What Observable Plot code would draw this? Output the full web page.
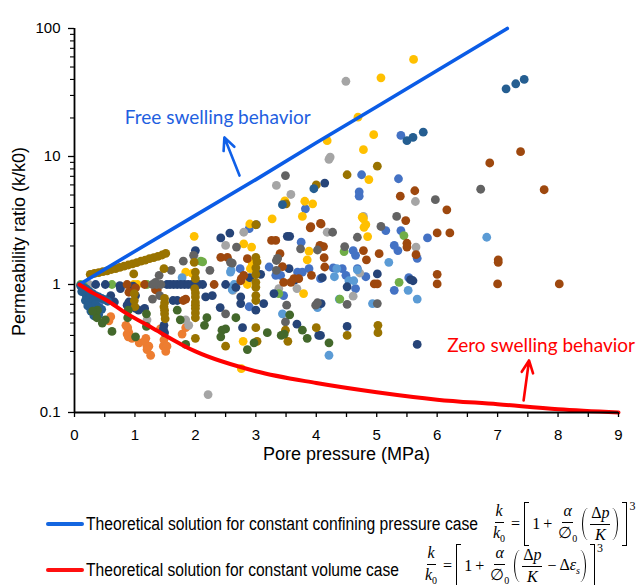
<!DOCTYPE html>
<html><head><meta charset="utf-8">
<script src="https://cdn.jsdelivr.net/npm/d3@7"></script>
<script src="https://cdn.jsdelivr.net/npm/@observablehq/plot@0.6"></script>
<style>
body{margin:0;background:#fff;}
#wrap{position:relative;width:641px;height:585px;overflow:hidden;background:#fff;}
#wrap svg{display:block;}
.lg-line{position:absolute;height:4px;width:38px;left:46px;border-radius:2px;}
.lg-text{position:absolute;left:86px;font-family:"Liberation Sans Narrow","Arial Narrow","Liberation Sans",Arial,sans-serif;font-size:18px;transform-origin:left center;white-space:nowrap;line-height:1;color:#000;}
.math{position:absolute;display:flex;align-items:center;font-family:"Liberation Serif","DejaVu Serif",serif;font-size:16px;line-height:1;white-space:nowrap;color:#000;transform:translateY(-50%);}
.frac{display:inline-flex;flex-direction:column;align-items:center;margin:0 2px;}
.frac>span{line-height:1.05;}
.frac>span:first-child{border-bottom:1px solid #000;padding:0 1px 2px;}
.frac>span:last-child{padding:2px 1px 0;}
.op{margin:0 3px;}
.bl,.br{display:inline-block;width:4px;height:42px;border:1.3px solid #000;}
.bl{border-right:none;margin:0 3px 0 1px;}
.br{border-left:none;margin:0 1px 0 3px;}
.pl,.pr{display:inline-block;width:5px;height:32px;}
.pl{border-left:1.4px solid #000;border-radius:6px 0 0 6px / 16px 0 0 16px;margin:0 0 0 2px;}
.pr{border-right:1.4px solid #000;border-radius:0 6px 6px 0 / 0 16px 16px 0;margin:0 1px 0 0;}
.v{font-style:italic;}
.sb{font-size:10px;vertical-align:-4px;}
.sp{font-size:12px;align-self:flex-start;margin-top:-2px;margin-left:1px;}
</style>
</head><body>
<div id="wrap"></div>
<script>
// ---------- axis ticks ----------
const xTicks = [0,1,2,3,4,5,6,7,8,9];
const xMinorTicks = [0.5,1.5,2.5,3.5,4.5,5.5,6.5,7.5,8.5];
const yTicks = [0.1,1,10,100];
const yTickLabels = ["0.1","1","10","100"];
const yMinorTicks = [0.2,0.3,0.4,0.5,0.6,0.7,0.8,0.9,2,3,4,5,6,7,8,9,20,30,40,50,60,70,80,90];

// ---------- theoretical curves ----------
const freeSwelling = [[0.08,1],[1,1.82],[2,3.47],[3,6.6],[4,12.8],[5,24.5],[6,47],[7.16,100]];
const zeroSwelling = [[0.08,1],[0.3,0.86],[0.54,0.75],[0.8,0.62],[1.26,0.465],[2,0.3],[3,0.21],[4,0.17],[5,0.144],[6,0.126],[7,0.116],[8,0.106],[9,0.1]];

// ---------- measured data, one array per series ----------
const seriesBlue = [[0.2,0.9],[0.3,0.78],[0.35,0.72],[0.25,0.84],[0.4,0.7],[2.74,1.33],[2.89,2.73],[3.22,1.37],[3.33,1.18],[3.41,1.18],[3.46,0.82],[3.69,1.25],[3.77,1.25],[3.75,2.14],[3.82,3.9],[3.88,1.33],[2.89,0.67],[4.28,1.35],[4.43,1.33],[4.49,1.18],[4.61,1.84],[4.65,1.69],[4.68,1.33],[4.65,0.93],[4.71,5.3],[4.71,4.9],[4.75,7.2],[4.82,1.15],[5.15,2.64],[5.29,2.02],[5.35,1.84],[5.36,6.7],[5.4,2.64],[5.4,14.6],[5.53,1.13],[5.29,0.9],[5.67,1.6],[5.84,2.31],[4.07,1.11]];
const seriesOrange = [[0.57,0.52],[0.6,0.56],[0.85,0.48],[0.88,0.46],[0.9,0.42],[0.87,0.41],[0.89,0.39],[0.95,0.38],[1.07,0.35],[1.18,0.38],[1.16,0.36],[1.2,0.33],[1.23,0.33],[1.2,0.31],[1.26,0.28],[1.42,0.45],[1.48,0.37],[1.47,0.33],[1.53,0.33],[1.51,0.3],[1.78,0.41],[1.84,0.46]];
const seriesGrey = [[0.24,1.0],[1.2,0.53],[1.84,0.53],[1.89,0.48],[1.98,1.69],[2.5,2.02],[2.8,2.56],[3.34,5.94],[3.58,5.05],[3.36,1.6],[3.38,0.93],[3.68,0.93],[4.23,9.9],[4.21,9.5],[4.18,2.56],[4.49,38.7],[4.72,1.23],[4.78,3.4],[4.61,0.81],[5.64,4.45],[5.65,1.96],[2.21,0.138],[2.62,0.9]];
const seriesGold = [[0.98,1.0],[1.04,1.0],[1.84,1.25],[1.98,2.38],[1.95,1.22],[2.8,2.08],[2.93,1.96],[2.9,2.97],[2.94,1.45],[2.91,1.33],[2.86,1.0],[2.79,0.36],[2.76,0.22],[3.27,3.26],[3.48,4.5],[3.77,3.4],[3.81,4.47],[3.94,4.27],[3.88,1.82],[3.85,1.56],[3.79,0.85],[4.18,13.3],[4.69,20.3],[4.76,3.36],[4.82,2.94],[4.79,2.8],[4.85,2.37],[4.78,11.3],[4.87,6.6],[4.78,3.26],[4.95,14.8],[5.07,41.2],[5.61,57.3]];
const seriesLightBlue = [[1.78,1.13],[2.59,1.29],[2.58,1.25],[2.64,1.0],[2.61,0.91],[3.44,0.59],[4.34,1.33],[4.3,1.15],[4.38,0.77],[4.54,1.07],[4.62,1.07],[4.68,1.3],[4.93,0.71],[5.2,1.49],[5.52,0.9],[5.67,0.77],[6.82,2.34],[4.21,0.28],[4.02,0.66]];
const seriesGreen = [[0.1,1.0],[0.15,0.98],[0.62,1.0],[1.2,1.0],[2.09,1.52],[2.12,1.5],[3.38,0.85],[4.46,1.81],[4.39,0.77],[5.37,1.04],[5.45,2.41]];
const seriesNavy = [[0.35,1.0],[0.51,1.0],[0.75,0.98],[0.97,0.97],[1.53,1.0],[1.58,1.0],[1.64,1.0],[1.7,1.0],[1.76,1.0],[1.82,1.0],[1.88,1.0],[1.94,1.0],[2.0,1.0],[2.06,1.0],[2.12,1.0],[0.6,0.82],[0.76,0.93],[0.56,0.76],[0.66,0.73],[0.87,0.69],[1.01,0.65],[1.01,0.82],[0.9,0.73],[1.06,0.63],[1.16,0.65],[1.48,0.48],[1.49,0.42],[1.47,0.45],[1.63,0.75],[1.7,0.75],[2.0,1.84],[2.17,0.8],[2.28,0.82],[2.41,0.66],[2.42,2.31],[2.57,2.52],[2.5,1.0],[2.67,0.95],[2.75,0.8],[2.75,0.71],[2.78,0.46],[2.9,1.13],[3.0,0.63],[3.08,1.2],[3.13,0.71],[3.3,0.85],[3.52,2.38],[3.56,2.38],[3.55,1.33],[3.68,0.49],[3.64,1.08],[4.04,0.4],[4.07,0.4],[4.08,0.71],[4.1,1.13],[4.14,6.2],[4.51,0.96],[4.51,0.47],[5.01,1.21],[5.56,1.09],[5.6,1.07],[5.67,0.34]];
const seriesBrown = [[0.87,1.0],[0.9,0.87],[1.01,0.94],[1.16,1.0],[1.34,0.91],[1.37,0.91],[1.8,0.75],[1.84,0.77],[2.31,1.0],[2.42,1.63],[2.53,1.63],[2.75,1.07],[2.76,1.11],[2.8,1.18],[2.86,1.59],[3.26,2.21],[3.33,2.21],[3.4,1.74],[3.44,1.38],[3.46,1.04],[3.58,1.04],[3.63,1.11],[3.71,1.11],[3.9,2.77],[3.91,2.83],[3.92,1.18],[4.06,2.02],[4.08,2.97],[4.07,3.0],[4.12,1.98],[4.13,1.62],[4.14,1.37],[4.78,1.84],[4.83,1.56],[4.96,1.01],[5.01,1.01],[5.04,1.74],[5.39,4.9],[5.48,3.16],[5.5,2.1],[5.5,1.96],[5.63,5.4],[5.65,1.71],[6.0,2.53],[6.21,2.53],[6.16,3.83],[6.0,1.2],[6.0,1.01],[6.87,8.9],[7.01,1.56],[7.01,1.49],[7.0,1.01],[7.38,10.9],[7.77,5.5],[8.02,1.01]];
const seriesDarkGrey = [[1.29,1.0],[1.36,1.0],[1.43,1.0],[1.34,1.04],[1.6,1.29],[1.4,1.18],[1.41,0.82],[1.29,0.77],[1.8,1.52],[1.97,1.69],[2.24,1.29],[2.5,0.59],[2.58,1.49],[2.61,1.47],[2.68,1.96],[3.01,2.94],[3.34,1.54],[3.34,1.29],[3.36,1.6],[3.49,7.1],[3.49,0.51],[3.51,0.69],[3.74,1.9],[3.99,0.69],[4.02,1.86],[4.02,0.72],[4.27,2.56],[4.47,1.98],[4.51,0.7],[4.68,2.34],[5.01,0.71],[5.07,2.84],[5.33,3.4],[5.97,4.6],[6.72,5.55]];
const seriesDarkGold = [[0.26,1.2],[0.33,1.22],[0.4,1.24],[0.47,1.26],[0.54,1.28],[0.61,1.31],[0.68,1.33],[0.75,1.36],[0.82,1.39],[0.89,1.42],[0.96,1.45],[1.03,1.48],[1.1,1.52],[1.17,1.55],[1.24,1.59],[1.31,1.62],[1.38,1.66],[1.45,1.7],[1.51,1.75],[0.98,1.21],[0.99,0.85],[0.99,0.75],[1.0,0.67],[1.48,1.33],[1.49,0.78],[1.49,0.72],[1.48,0.67],[1.49,0.63],[1.49,0.59],[1.5,0.54],[1.98,1.49],[2.0,1.25],[2.0,1.11],[1.99,0.93],[2.0,0.86],[2.0,0.8],[2.0,0.73],[2.0,0.69],[2.0,0.65],[2.0,0.6],[2.0,0.55],[2.0,0.38],[3.0,1.63],[3.02,1.5],[3.0,1.35],[3.0,1.2],[3.0,1.04],[3.0,0.95],[3.0,0.82],[3.0,0.75],[3.0,0.46],[3.02,0.36],[3.0,2.93],[2.5,0.33],[3.49,0.44],[3.53,0.36],[4.0,0.46],[3.5,4.27],[4.0,6.0],[4.51,7.2],[5.01,8.4],[4.51,0.4],[5.02,0.48],[5.02,0.42]];
const seriesSteelBlue = [[0.12,0.95],[0.15,0.9],[0.18,0.85],[0.2,0.8],[0.22,0.76],[0.25,0.72],[0.28,0.68],[0.3,0.65],[0.33,0.62],[0.36,0.6],[0.4,0.58],[0.15,0.95],[0.2,0.92],[0.25,0.88],[0.3,0.85],[0.35,0.82],[0.4,0.8],[0.45,0.78],[0.5,0.76],[0.55,0.74],[0.25,0.78],[0.3,0.74],[0.35,0.7],[0.4,0.66],[0.45,0.64],[0.18,0.75],[0.22,0.68],[0.27,0.62],[0.32,0.57],[0.1,0.98],[0.12,0.88],[3.44,4.2],[3.96,5.6],[5.5,13.3],[5.6,14.1],[5.77,15.5],[7.14,33.8],[7.3,37],[7.44,40]];
const seriesDarkGreen = [[0.37,0.55],[0.38,0.63],[0.51,0.53],[0.46,0.5],[0.62,0.43],[0.89,0.63],[0.88,0.55],[1.01,0.39],[1.19,0.59],[1.19,0.47],[1.7,0.63],[1.75,0.53],[1.84,0.34],[2.19,0.55],[2.15,0.48],[2.44,0.44],[2.5,0.45],[2.42,0.39],[2.67,0.55],[2.97,0.35],[2.86,0.31],[3.19,0.42],[3.42,0.4],[3.47,0.41],[3.56,0.58],[3.77,0.44],[3.85,0.38],[4.21,0.35],[0.3,0.62]];

const seriesList = [seriesBlue, seriesOrange, seriesGrey, seriesGold, seriesLightBlue, seriesGreen, seriesNavy, seriesBrown, seriesDarkGrey, seriesDarkGold, seriesSteelBlue, seriesDarkGreen];
const seriesColors = ["#4472C4","#ED7D31","#A5A5A5","#FFC000","#5B9BD5","#70AD47","#264478","#9E480E","#636363","#997300","#255E91","#43682B"];

// ---------- annotations ----------
const annotations = [
  {x: 2.37, y: 20.2, text: "Free swelling behavior", color: "#1F5FE0"},
  {x: 7.72, y: 0.333, text: "Zero swelling behavior", color: "#FF0000"}
];
const arrows = [
  {x1: 2.73, y1: 7.1, x2: 2.48, y2: 14.1, color: "#1060E8"},
  {x1: 7.43, y1: 0.124, x2: 7.52, y2: 0.255, color: "#FF0000"}
];
const xLabel = "Pore pressure (MPa)";
const yLabel = "Permeability ratio (k/k0)";
const legendTexts = ["Theoretical solution for constant confining pressure case", "Theoretical solution for constant volume case"];

const BLUE = "#0B5CE6", RED = "#FF0000";
const H = 475;
const chart = Plot.plot({
  width: 641, height: H,
  marginLeft: 74, marginRight: 23, marginTop: 28, marginBottom: H - 412,
  x: {domain: [0, 9], label: null},
  y: {type: "log", domain: [0.1, 100], label: null},
  style: {fontFamily: "'Liberation Sans', Arial, sans-serif", fontSize: "15px", color: "#000", background: "#fff", overflow: "visible"},
  marks: [
    ...seriesList.map((s, i) => Plot.dot(s, {x: d => d[0], y: d => d[1], r: 4.4, fill: seriesColors[i], stroke: "none"})),
    Plot.line(freeSwelling, {x: d => d[0], y: d => d[1], stroke: BLUE, strokeWidth: 3.6}),
    Plot.line(zeroSwelling, {x: d => d[0], y: d => d[1], stroke: RED, strokeWidth: 4, curve: "monotone-x"}),
    Plot.ruleX([0], {stroke: "#000", strokeWidth: 1.8}),
    Plot.ruleY([0.1], {stroke: "#000", strokeWidth: 1.8}),
    Plot.axisX(xTicks, {tickSize: 5, tickPadding: 12, tickFormat: d => String(d), fontSize: 15, stroke: "#000", strokeWidth: 1.3}),
    Plot.axisX(xMinorTicks, {tickSize: 5, tickFormat: () => "", stroke: "#000", strokeWidth: 1.3}),
    Plot.axisY(yTicks, {tickSize: 6, tickPadding: 8, tickFormat: d => yTickLabels[yTicks.indexOf(d)], fontSize: 15, stroke: "#000", strokeWidth: 1.3}),
    Plot.axisY(yMinorTicks, {tickSize: 4, tickFormat: () => "", stroke: "#000", strokeWidth: 1.1}),
    Plot.text(annotations, {x: "x", y: "y", text: "text", fill: "color", fontSize: 19, fontFamily: "Lato, 'Open Sans', sans-serif"}),
    Plot.arrow(arrows, {x1: "x1", y1: "y1", x2: "x2", y2: "y2", stroke: "color", strokeWidth: 2.6, headLength: 10, headAngle: 50}),
    Plot.text([xLabel], {frameAnchor: "bottom", dy: 47, fontSize: 18, fill: "#000"}),
    Plot.text([yLabel], {frameAnchor: "left", textAnchor: "middle", dx: -55, dy: 21, rotate: -90, fontSize: 18, fill: "#000"})
  ]
});
const wrap = document.getElementById("wrap");
wrap.appendChild(chart);

function addLegend(color, text, cy, targetW, mathHTML, mathLeft, mathCy) {
  const ln = document.createElement("div");
  ln.className = "lg-line"; ln.style.background = color; ln.style.top = (cy - 2) + "px";
  wrap.appendChild(ln);
  const t = document.createElement("span");
  t.className = "lg-text"; t.textContent = text; t.style.top = cy + "px";
  wrap.appendChild(t);
  const w = t.getBoundingClientRect().width;
  t.style.transform = `translateY(-50%) scaleX(${targetW / w})`;
  const m = document.createElement("div");
  m.className = "math"; m.innerHTML = mathHTML; m.style.left = mathLeft + "px"; m.style.top = mathCy + "px";
  wrap.appendChild(m);
}
const lhs = `<span class="frac"><span class="v">k</span><span><span class="v">k</span><span class="sb">0</span></span></span><span class="op">=</span>`;
const coef = `<span>1</span><span class="op">+</span><span class="frac"><span class="v">α</span><span>∅<span class="sb">0</span></span></span>`;
const math1 = lhs + `<span class="bl"></span>` + coef + `<span class="pl"></span><span class="frac"><span>Δ<span class="v">p</span></span><span class="v">K</span></span><span class="pr"></span><span class="br"></span><span class="sp">3</span>`;
const math2 = lhs + `<span class="bl"></span>` + coef + `<span class="pl"></span><span class="frac"><span>Δ<span class="v">p</span></span><span class="v">K</span></span><span class="op">−</span><span>Δ<span class="v">ε</span><span class="sb v">s</span></span><span class="pr"></span><span class="br"></span><span class="sp">3</span>`;
addLegend("#1466E0", legendTexts[0], 524, 392, math1, 490, 524);
addLegend("#FF1010", legendTexts[1], 570, 313, math2, 422, 566);
</script>
</body></html>
